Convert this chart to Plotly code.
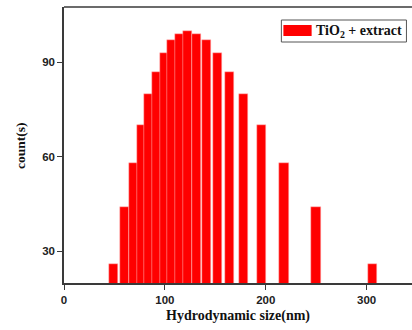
import plotly.graph_objects as go

# Hydrodynamic size (nm) bin centres and counts
sizes = [49.1, 60.0, 69.0, 76.5, 84.1, 91.7, 99.3, 106.9, 114.1, 122.0,
         131.3, 141.3, 151.9, 163.9, 178.4, 196.0, 218.1, 249.8, 306.1]
counts = [26, 44, 58, 70, 80, 87, 93, 97, 99, 100,
          99, 97, 93, 87, 80, 70, 58, 44, 26]
x_ticks = [0, 100, 200, 300]
y_ticks = [30, 60, 90]
series_name = "TiO<sub>2</sub> + extract"

RED = "#ff0000"
AX = "#3a3a3a"

fig = go.Figure()
fig.add_trace(go.Bar(
    x=sizes, y=counts, width=9, base=0,
    marker=dict(color=RED, line=dict(color="#ffc0c0", width=0.5)),
    showlegend=False,
))

fig.update_layout(
    width=412, height=330,
    margin=dict(l=64, r=0, t=7, b=47),
    paper_bgcolor="white", plot_bgcolor="white",
    bargap=0,
    xaxis=dict(range=[0, 345], tickvals=x_ticks, ticks="outside", ticklen=5,
               tickwidth=1.2, tickcolor=AX, showline=True, linecolor=AX,
               linewidth=1.5, mirror=False, showgrid=False, zeroline=False,
               tickfont=dict(family="Liberation Sans", size=11.5, color="#222", weight="bold")),
    yaxis=dict(range=[20, 107.5], tickvals=y_ticks, ticks="outside", ticklen=5,
               tickwidth=1.2, tickcolor=AX, showline=True, linecolor=AX,
               linewidth=1.5, showgrid=False, zeroline=False,
               tickfont=dict(family="Liberation Sans", size=11.5, color="#222", weight="bold")),
    shapes=[
        # top frame line
        dict(type="line", xref="paper", yref="paper", x0=0, x1=1, y0=1, y1=1,
             line=dict(color=AX, width=1.5)),
        # legend box
        dict(type="rect", xref="x", yref="paper", x0=215.5, x1=339.5,
             y0=(283 - 42) / 276, y1=(283 - 20) / 276,
             line=dict(color="#555", width=1), fillcolor="white"),
        dict(type="rect", xref="x", yref="paper", x0=217.5, x1=245.5,
             y0=(283 - 36) / 276, y1=(283 - 25) / 276,
             line=dict(width=0), fillcolor=RED),
    ],
    annotations=[
        dict(text=series_name, xref="x", yref="paper", x=248, y=(283 - 31) / 276,
             xanchor="left", yanchor="middle", showarrow=False,
             font=dict(family="Liberation Serif", size=14, color="#111", weight="bold")),
        dict(text="count(s)", xref="paper", yref="paper", x=-44 / 348, y=0.5,
             xanchor="center", yanchor="middle", textangle=-90, showarrow=False,
             font=dict(family="Liberation Serif", size=13.5, color="#111", weight="bold")),
        dict(text="Hydrodynamic size(nm)", xref="paper", yref="paper", x=0.5,
             y=-33 / 276, xanchor="center", yanchor="middle", showarrow=False,
             font=dict(family="Liberation Serif", size=14, color="#111", weight="bold")),
    ],
)

fig.write_html("out.html")
